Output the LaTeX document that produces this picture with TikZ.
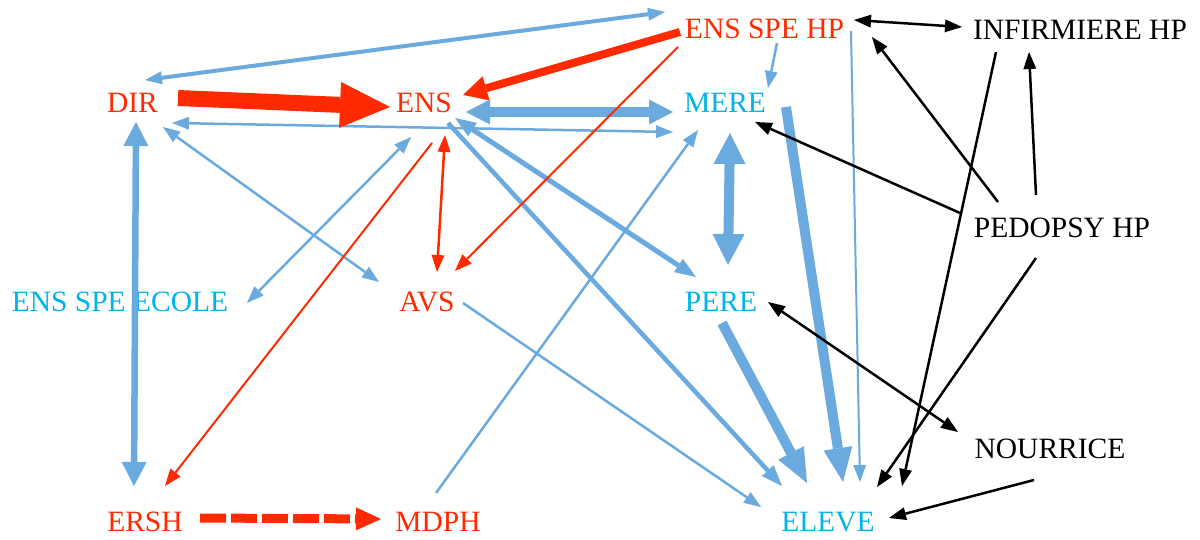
\documentclass[tikz,border=0pt]{standalone}
\usepackage{fontspec}
\setmainfont{Liberation Serif}
\usetikzlibrary{arrows.meta}
\definecolor{cred}{HTML}{FF2A00}
\definecolor{cblue}{HTML}{6AAADE}
\definecolor{ccyan}{HTML}{00B4E6}
\tikzset{
  sm/.tip={Triangle[length=17pt,width=13pt,line width=0pt]},
  md/.tip={Triangle[length=21pt,width=16pt,line width=0pt]},
  lg/.tip={Triangle[length=24pt,width=25pt,line width=0pt]},
  xl/.tip={Triangle[length=34pt,width=29pt,line width=0pt]},
  xv/.tip={Triangle[length=31pt,width=32pt,line width=0pt]},
  hg/.tip={Triangle[length=50pt,width=46pt,line width=0pt]},
  ds/.tip={Triangle[length=25pt,width=23pt,line width=0pt]},
  lbl/.style={inner sep=0pt,font=\fontsize{29.5}{32}\selectfont},
  rtxt/.style={lbl,text=cred},
  ctxt/.style={lbl,text=ccyan},
  ktxt/.style={lbl,text=black},
  bln/.style={draw=cblue,line width=#1},
  rln/.style={draw=cred,line width=#1},
  kln/.style={draw=black,line width=#1},
}
\begin{document}
\begin{tikzpicture}[x=1pt,y=-1pt]
\useasboundingbox (0,0) rectangle (1200,540);
\fill[white] (0,0) rectangle (1200,540);
% nodes
\node[rtxt] (enshp) at (764.5,29) {ENS SPE HP};
\node[ktxt] (infhp) at (1080,30) {INFIRMIERE HP};
\node[rtxt] (dir) at (132.5,102.5) {DIR};
\node[rtxt] (ens) at (424,102.5) {ENS};
\node[ctxt] (mere) at (725,103) {MERE};
\node[ktxt] (pedo) at (1062,228) {PEDOPSY HP};
\node[ctxt] (ecole) at (120,302) {ENS SPE ECOLE};
\node[rtxt] (avs) at (427,302) {AVS};
\node[ctxt] (pere) at (721,302) {PERE};
\node[ktxt] (nour) at (1050,449) {NOURRICE};
\node[rtxt] (ersh) at (145,522) {ERSH};
\node[rtxt] (mdph) at (438,522) {MDPH};
\node[ctxt] (eleve) at (828,522) {ELEVE};
% blue connectors
\draw[bln=4pt,{sm}-{sm}] ([shift={(12.5,-22.5)}]dir.center) -- ([shift={(-99.5,-17)}]enshp.center);
\draw[bln=9.5pt,{lg}-{lg}] ([shift={(42,9.5)}]ens.center) -- ([shift={(-52,9)}]mere.center);
\draw[bln=2.5pt,{sm}-{sm}] ([shift={(39.5,20.5)}]dir.center) -- ([shift={(-52,29)}]mere.center);
\draw[bln=6.5pt,{lg}-{lg}] ([shift={(3.5,19.5)}]dir.center) -- ([shift={(-11,-36)}]ersh.center);
\draw[bln=2.5pt,{sm}-{sm}] ([shift={(30.5,24.5)}]dir.center) -- ([shift={(-48,-20)}]avs.center);
\draw[bln=2.5pt,{sm}-{sm}] ([shift={(-13,34.5)}]ens.center) -- ([shift={(127,1)}]ecole.center);
\draw[bln=4.5pt,-{md}] ([shift={(24,20.5)}]ens.center) -- ([shift={(-46,-36)}]eleve.center);
\draw[bln=5pt,{md}-{md}] ([shift={(31,15.5)}]ens.center) -- ([shift={(-25,-25)}]pere.center);
\draw[bln=2.5pt,-{sm}] ([shift={(12.5,14)}]enshp.center) -- ([shift={(43,-15)}]mere.center);
\draw[bln=2pt,-{sm}] ([shift={(86.5,2)}]enshp.center) -- ([shift={(32,-40)}]eleve.center);
\draw[bln=10pt,{xv}-{xv}] ([shift={(5,30)}]mere.center) -- ([shift={(7,-37)}]pere.center);
\draw[bln=10pt,-{xl}] ([shift={(61,4)}]mere.center) -- ([shift={(15,-40)}]eleve.center);
\draw[bln=10pt,-{xl}] ([shift={(1,21)}]pere.center) -- ([shift={(-21,-39)}]eleve.center);
\draw[bln=2.5pt,-{sm}] ([shift={(36,1)}]avs.center) -- ([shift={(-67,-15)}]eleve.center);
\draw[bln=2.5pt,-{sm}] ([shift={(-2,-29)}]mdph.center) -- ([shift={(-27,27)}]mere.center);
% red connectors
\draw[rln=16pt,-{hg}] ([shift={(45.5,-4.5)}]dir.center) -- ([shift={(-34,4.5)}]ens.center);
\draw[rln=8pt,-{lg}] ([shift={(-84.5,3)}]enshp.center) -- ([shift={(39,-7.5)}]ens.center);
\draw[rln=2pt,-{sm}] ([shift={(-86.5,18)}]enshp.center) -- ([shift={(28,-31)}]avs.center);
\draw[rln=2pt,-{sm}] ([shift={(8,40.5)}]ens.center) -- ([shift={(20,-36)}]ersh.center);
\draw[rln=2.5pt,{sm}-{sm}] ([shift={(21,32.5)}]ens.center) -- ([shift={(10,-30)}]avs.center);
\draw[rln=9pt,dash pattern=on 26pt off 5pt,-{ds}] ([shift={(55,-4)}]ersh.center) -- ([shift={(-57,-3)}]mdph.center);
% black connectors
\draw[kln=2.5pt,{sm}-{sm}] ([shift={(89.5,-9)}]enshp.center) -- ([shift={(-118,-3)}]infhp.center);
\draw[kln=2.5pt,-{sm}] ([shift={(-84,22)}]infhp.center) -- ([shift={(74,-36)}]eleve.center);
\draw[kln=2.5pt,-{sm}] ([shift={(-26,-33)}]pedo.center) -- ([shift={(-51,22)}]infhp.center);
\draw[kln=2.5pt,-{sm}] ([shift={(-64,-26)}]pedo.center) -- ([shift={(107.5,8)}]enshp.center);
\draw[kln=2.5pt,-{sm}] ([shift={(-102,-15)}]pedo.center) -- ([shift={(30,19)}]mere.center);
\draw[kln=2.5pt,-{sm}] ([shift={(-26,30)}]pedo.center) -- ([shift={(49,-35)}]eleve.center);
\draw[kln=2.5pt,{sm}-{sm}] ([shift={(47,0)}]pere.center) -- ([shift={(-92,-17)}]nour.center);
\draw[kln=2.5pt,-{sm}] ([shift={(-16,31)}]nour.center) -- ([shift={(61,-4)}]eleve.center);
\end{tikzpicture}
\end{document}
